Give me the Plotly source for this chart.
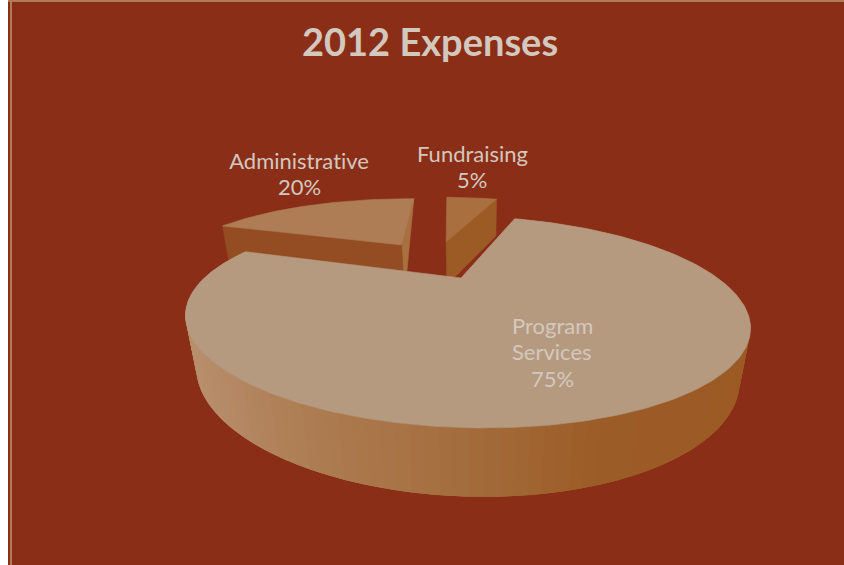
import math
import plotly.graph_objects as go

# ---- data ----
categories = ["Program<br>Services", "Administrative", "Fundraising"]
values = [75, 20, 5]
title_text = "2012 Expenses"

# ---- styling ----
FONT = "Lato"
BG = "#8A2E18"
BORDER = "#AE7C55"
TEXT = "#D3C8BE"
TOP_COLORS = ["#B59A80", "#AE7C55", "#A96F3F"]
RADIAL_COLORS = [None, "#944C22", "#9C5A25"]
END_COLOR = "#A9703F"
OFFSETS = [(0.0, 0.0), (-0.25, 0.446), (-0.043, 0.494)]   # exploded slices, pie units
DEPTH_SCALE = [1.0, 2.0, 1.0]
END_LEAN = -10
ROTATION = 20.0
LABEL_POS = [(552, 325), (299, 160), (472, 153)]   # centre of the first line of each label
LINE_STEP = 26.5

# projection of the pie plane to the 844x565 canvas
X0, Y0, AX, AY, K, SHEAR = 461.0, 278.0, 256.6, 87.7, 0.415, -14.0


def project(u, v):
    w = 1 + K * v
    return X0 + AX * u / w + SHEAR * v / w, Y0 - AY * v / w


def drop(p, scale=1.0, lean=0.0):
    """Lower edge of the pie wall under a point of the top face."""
    x, y = p
    d = (37 + 0.14 * (y - 200)) * scale
    return x - (x - 470) * d / 1400 + lean, y + d


def mix(x):
    stops = [(190, (184, 142, 108)), (300, (174, 125, 83)), (480, (163, 107, 58)),
             (600, (156, 92, 39)), (750, (156, 90, 37))]
    if x <= stops[0][0]:
        c = stops[0][1]
    elif x >= stops[-1][0]:
        c = stops[-1][1]
    else:
        for (a, ca), (b, cb) in zip(stops, stops[1:]):
            if a <= x <= b:
                t = (x - a) / (b - a)
                c = tuple(round(p + (q - p) * t) for p, q in zip(ca, cb))
                break
    return "rgb(%d,%d,%d)" % c


def poly(fig, pts, color, edge=0.6):
    xs = [p[0] for p in pts] + [pts[0][0]]
    ys = [p[1] for p in pts] + [pts[0][1]]
    fig.add_trace(go.Scatter(x=xs, y=ys, mode="lines", fill="toself", fillcolor=color,
                             line=dict(color=color, width=edge), hoverinfo="skip",
                             showlegend=False))


# slice angles follow from the values
total = sum(values)
spans = []
a = ROTATION
for val in values:
    b = a + 360.0 * val / total
    spans.append((a, b))
    a = b


def rim(i, n):
    start, end = spans[i]
    du, dv = OFFSETS[i]
    out = []
    for k in range(n + 1):
        th = math.radians(start + (end - start) * k / n)
        out.append(project(du + math.sin(th), dv + math.cos(th)))
    return out


fig = go.Figure()

# pulled slices first (far away), big slice in front
for i in (2, 1):
    arc = rim(i, 60)
    tip = project(*OFFSETS[i])
    s = DEPTH_SCALE[i]
    if i == 1:
        poly(fig, [arc[-1], tip, drop(tip, s), drop(arc[-1], s, END_LEAN)], END_COLOR)
        poly(fig, [arc[0], tip, drop(tip, s), drop(arc[0], s)], RADIAL_COLORS[i])
    else:
        poly(fig, [arc[-1], tip, drop(tip, s), drop(arc[-1], s)], RADIAL_COLORS[i])
    poly(fig, [tip] + arc, TOP_COLORS[i])

arc = rim(0, 270)
tip = project(*OFFSETS[0])
# wall strips overlap the next strip so no seams show through
for k in range(0, len(arc) - 1, 2):
    mid = arc[min(k + 1, len(arc) - 1)]
    poly(fig, [arc[j] for j in range(k, min(k + 7, len(arc)))]
         + [drop(arc[j]) for j in range(min(k + 6, len(arc) - 1), k - 1, -1)],
         mix(mid[0]), edge=0)
poly(fig, [tip] + arc, TOP_COLORS[0])

annotations = [dict(x=430, y=41, text="<b>%s</b>" % title_text, showarrow=False,
                    font=dict(family=FONT, size=38, color=TEXT),
                    xanchor="center", yanchor="middle")]
for name, val, (lx, ly) in zip(categories, values, LABEL_POS):
    lines = name.split("<br>") + ["%d%%" % val]
    for n, line in enumerate(lines):
        annotations.append(dict(x=lx, y=ly + n * LINE_STEP, text=line, showarrow=False,
                                font=dict(family=FONT, size=22, color=TEXT),
                                xanchor="center", yanchor="middle", align="center"))

shapes = [
    dict(type="rect", layer="below", x0=8, x1=844, y0=0, y1=565, fillcolor=BG, line_width=0),
    dict(type="rect", layer="below", x0=10, x1=12, y0=0, y1=565, fillcolor=BORDER, line_width=0),
    dict(type="rect", layer="below", x0=8, x1=844, y0=0, y1=2, fillcolor=BORDER, line_width=0),
]

fig.update_layout(
    width=844, height=565, autosize=False,
    margin=dict(l=0, r=0, t=0, b=0),
    paper_bgcolor="#FFFFFF", plot_bgcolor="#FFFFFF",
    xaxis=dict(range=[0, 844], visible=False, fixedrange=True),
    yaxis=dict(range=[565, 0], visible=False, fixedrange=True),
    shapes=shapes, annotations=annotations, showlegend=False,
)
fig.write_html(
    "out.html", config={"displayModeBar": False},
    post_script=(
        "document.body.style.margin='0';document.documentElement.style.overflow='hidden';"
        "var st=document.createElement('style');"
        "st.textContent='text{font-variant-ligatures:none;font-feature-settings:\"liga\" 0;}';"
        "document.head.appendChild(st);"
    ),
)
